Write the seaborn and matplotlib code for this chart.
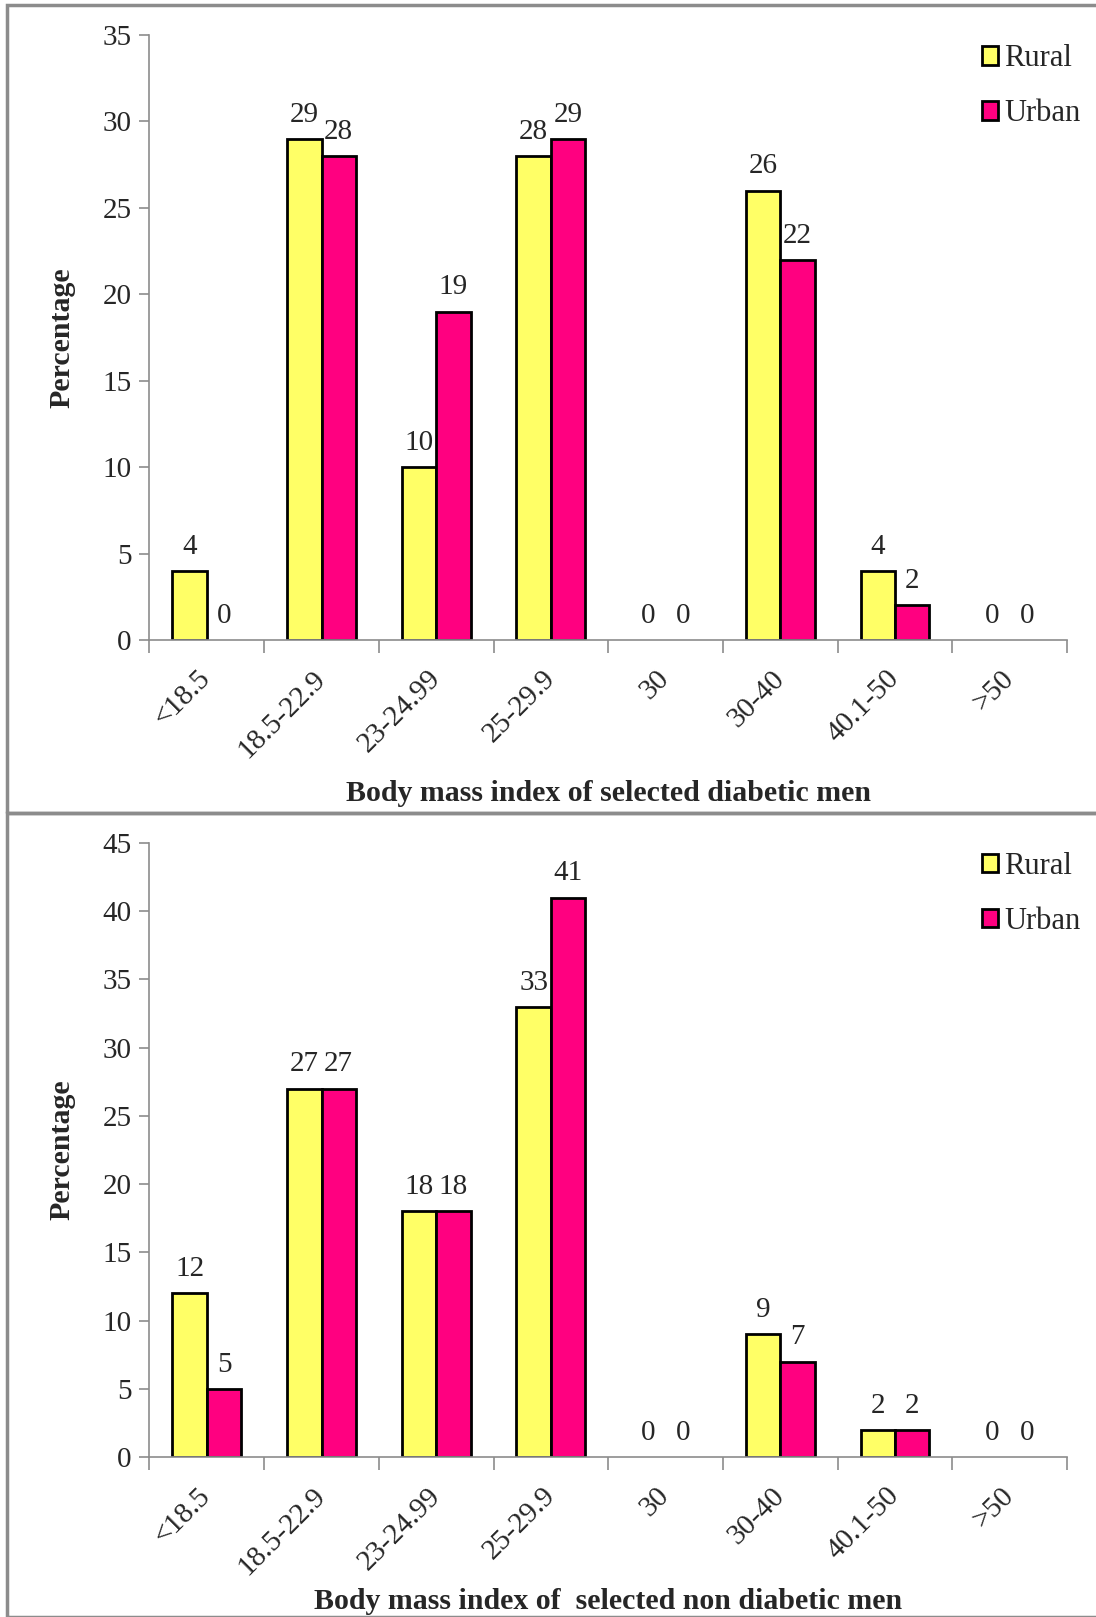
import numpy as np
import pandas as pd
import seaborn as sns
import matplotlib
matplotlib.use("Agg")
from matplotlib import pyplot as plt
from matplotlib.patches import Rectangle

# data
bmi_groups = ["<18.5", "18.5-22.9", "23-24.99", "25-29.9", "30", "30-40", "40.1-50", ">50"]
diab_rural = [4, 29, 10, 28, 0, 26, 4, 0]
diab_urban = [0, 28, 19, 29, 0, 22, 2, 0]
nondiab_rural = [12, 27, 18, 33, 0, 9, 2, 0]
nondiab_urban = [5, 27, 18, 41, 0, 7, 2, 0]

sns.set_style("white")
plt.rcParams['font.family'] = ['Liberation Serif', 'DejaVu Serif']

colors = ["#FFFF66", "#FF0080"]
spine_col = "#8c8c8c"


def make_df(rural, urban):
    return pd.DataFrame({
        "bmi": bmi_groups * 2,
        "pct": rural + urban,
        "area": ["Rural"] * len(rural) + ["Urban"] * len(urban),
    })


def draw_panel(ax, rural, urban, ymax, xlabel):
    df = make_df(rural, urban)
    sns.barplot(data=df, x="bmi", y="pct", hue="area", palette=colors,
                saturation=1, width=0.6, edgecolor="black", linewidth=2,
                errorbar=None, ax=ax)
    for cont in ax.containers:
        ax.bar_label(cont, fmt="%d", padding=8, fontsize=21)
        for p in cont.patches:
            if p.get_height() == 0:
                p.set_linewidth(0)  # no outline on empty bars
    ax.set_xlim(-0.5, len(bmi_groups) - 0.5)
    ax.set_ylim(0, ymax)
    ax.set_yticks(np.arange(0, ymax + 1, 5))
    ax.tick_params(axis="y", labelsize=21, length=7, width=1.2, color=spine_col,
                   direction="out", left=True, pad=6)
    ax.set_xticks(np.arange(len(bmi_groups)))
    ax.set_xticklabels(bmi_groups, rotation=45, ha="right", va="center",
                       rotation_mode="anchor", fontsize=21)
    ax.tick_params(axis="x", which="major", length=0, pad=25)
    ax.set_xticks(np.arange(len(bmi_groups) + 1) - 0.5, minor=True)
    ax.tick_params(axis="x", which="minor", length=9, width=1.2, color=spine_col,
                   direction="out", bottom=True)
    for s in ["top", "right"]:
        ax.spines[s].set_visible(False)
    for s in ["left", "bottom"]:
        ax.spines[s].set_color(spine_col)
        ax.spines[s].set_linewidth(1.2)
    ax.set_ylabel("Percentage", fontsize=21.5, fontweight="bold")
    ax.set_xlabel(xlabel, fontsize=21.5, fontweight="bold")
    ax.legend(title=None, loc="upper right", bbox_to_anchor=(1.045, 1.03),
              frameon=False, fontsize=22, handlelength=0.55, handleheight=0.55,
              handletextpad=0.2, labelspacing=0.85)


fig = plt.figure(figsize=(10.96, 16.17), dpi=100)
ax1 = fig.add_axes([0.1364, 0.6042, 0.8371, 0.3742])
ax2 = fig.add_axes([0.1364, 0.0989, 0.8371, 0.3798])

draw_panel(ax1, diab_rural, diab_urban, 35, "Body mass index of selected diabetic men")
draw_panel(ax2, nondiab_rural, nondiab_urban, 45, "Body mass index of  selected non diabetic men")
ax1.xaxis.set_label_coords(0.5, -0.231)
ax2.xaxis.set_label_coords(0.5, -0.213)
ax1.yaxis.set_label_coords(-0.081, 0.5)
ax2.yaxis.set_label_coords(-0.081, 0.5)

# panel frames
for y0, h in [(1 - 813 / 1617, (813 - 5) / 1617), (0.0, 1 - 813 / 1617)]:
    fig.add_artist(Rectangle((7 / 1096, y0), 1.0, h, transform=fig.transFigure,
                             fill=False, edgecolor=spine_col, linewidth=2.5))

plt.savefig("out.png", dpi=100)
